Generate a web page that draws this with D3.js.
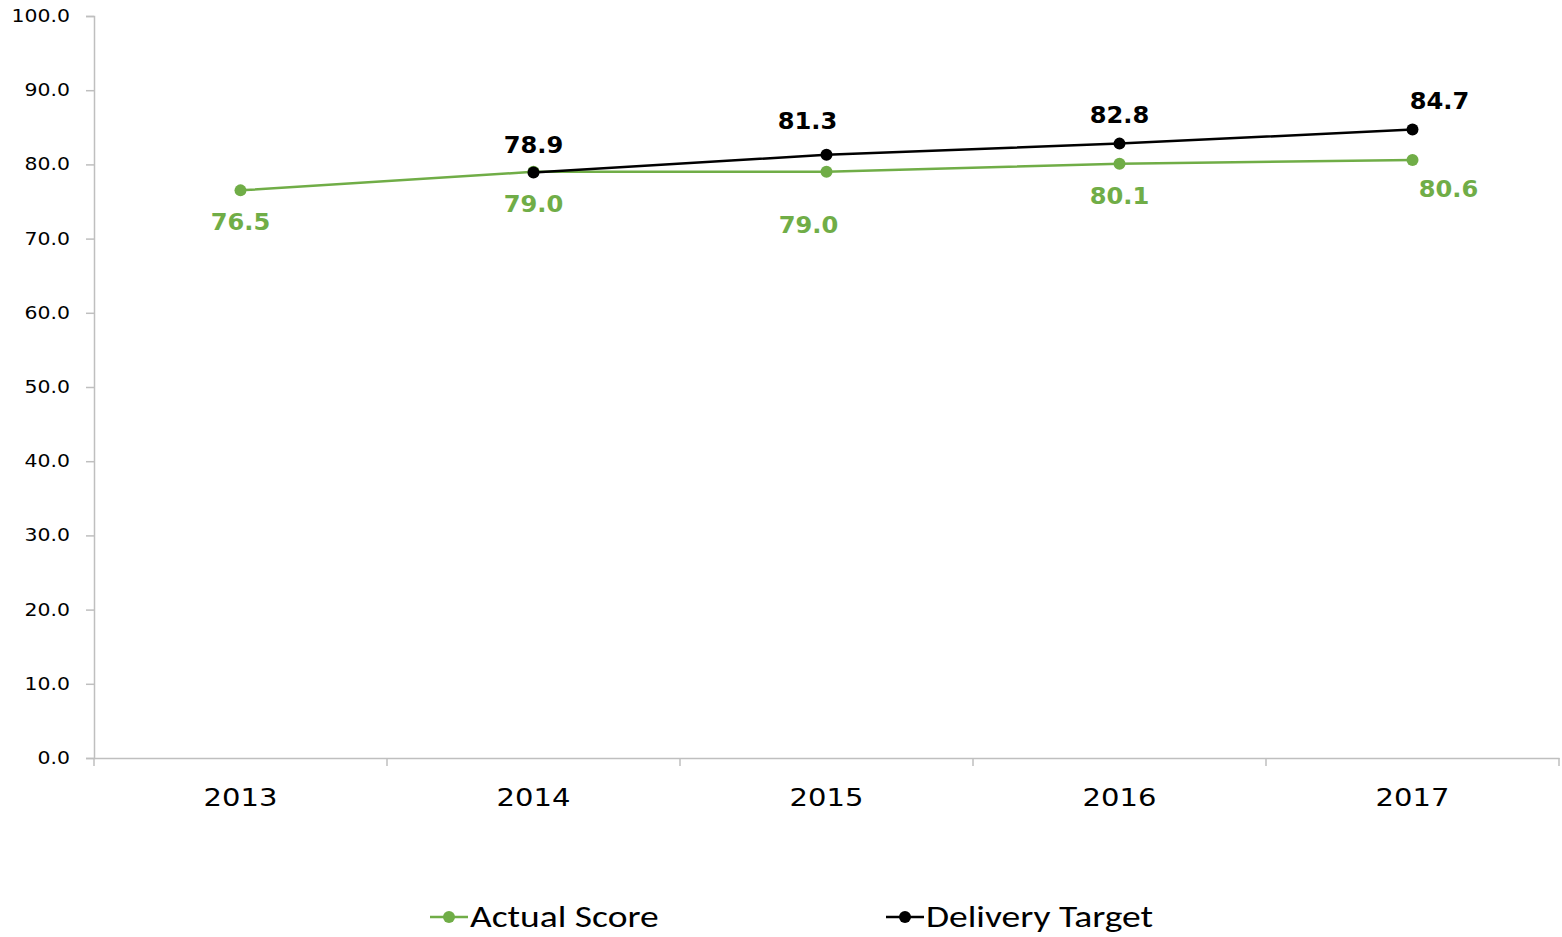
<!DOCTYPE html>
<html>
<head>
<meta charset="utf-8">
<script src="https://cdn.jsdelivr.net/npm/d3@7"></script>
<style>
  body { margin: 0; background: #fff; }
  svg { display: block; }
</style>
</head>
<body>
<svg id="chart"></svg>
<script>
var years = ["2013", "2014", "2015", "2016", "2017"];
var actualScore = [76.5, 79.0, 79.0, 80.1, 80.6];
var deliveryTarget = [null, 78.9, 81.3, 82.8, 84.7];
var yTicks = [0, 10, 20, 30, 40, 50, 60, 70, 80, 90, 100];

// label nudges (dx, dy) like the hand-placed ones in the original
var actualLabelNudge = [[0, 31], [0, 32], [-18, 53], [0, 32], [36, 29]];
var targetLabelNudge = [[0, 0], [0, -28], [-19, -34], [0, -29], [27, -29]];

var width = 1562, height = 937;
var margin = { left: 94, right: 3, top: 16, bottom: 179 };
var green = "#70AD47", black = "#000", axisCol = "#BFBFBF";

var svg = d3.select("#chart").attr("width", width).attr("height", height);

// the original text is drawn a bit wide, stretch it horizontally
function stretch(sel, k) {
  sel.each(function () {
    var w = this.getComputedTextLength();
    d3.select(this).attr("textLength", w * k).attr("lengthAdjust", "spacingAndGlyphs");
  });
}

var x = d3.scaleBand()
  .domain(years)
  .range([margin.left, width - margin.right]);

var y = d3.scaleLinear()
  .domain([0, 100])
  .range([height - margin.bottom, margin.top]);

// y axis
var yAxis = svg.append("g")
  .attr("transform", "translate(" + margin.left + ",0)")
  .call(d3.axisLeft(y).tickValues(yTicks).tickFormat(d3.format(".1f")).tickSize(8).tickPadding(16));
yAxis.select(".domain").attr("stroke", axisCol).attr("stroke-width", 1.5);
yAxis.selectAll(".tick line").attr("stroke", axisCol).attr("stroke-width", 1.5);
yAxis.selectAll("text")
  .attr("fill", "#000")
  .style("font-family", "DejaVu Sans, Verdana, sans-serif")
  .style("font-size", "17px")
  .call(stretch, 1.2);

// x axis
var xAxis = svg.append("g")
  .attr("transform", "translate(0," + y(0) + ")")
  .call(d3.axisBottom(x).tickSize(0).tickPadding(30));
xAxis.select(".domain").attr("stroke", axisCol).attr("stroke-width", 1.5);
xAxis.selectAll("text")
  .attr("fill", "#000")
  .style("font-family", "DejaVu Sans, Verdana, sans-serif")
  .style("font-size", "25px")
  .call(stretch, 1.16);

// category boundary ticks
var bounds = years.map(d => x(d)).concat([x(years[years.length - 1]) + x.bandwidth()]);
svg.append("g").selectAll("line")
  .data(bounds)
  .enter()
  .append("line")
  .attr("x1", d => d).attr("x2", d => d)
  .attr("y1", y(0)).attr("y2", y(0) + 8)
  .attr("stroke", axisCol).attr("stroke-width", 1.5);

var cx = i => x(years[i]) + x.bandwidth() / 2;

function drawSeries(values, color, nudge) {
  var pts = values.map((v, i) => ({ v: v, i: i })).filter(d => d.v !== null);
  var line = d3.line().x(d => cx(d.i)).y(d => y(d.v));
  var g = svg.append("g");
  g.append("path")
    .datum(pts)
    .attr("d", line)
    .attr("fill", "none")
    .attr("stroke", color)
    .attr("stroke-width", 2.5);
  g.selectAll("circle")
    .data(pts)
    .enter()
    .append("circle")
    .attr("cx", d => cx(d.i))
    .attr("cy", d => y(d.v))
    .attr("r", 6)
    .attr("fill", color);
  g.selectAll("text")
    .data(pts)
    .enter()
    .append("text")
    .attr("x", d => cx(d.i) + nudge[d.i][0])
    .attr("y", d => y(d.v) + nudge[d.i][1])
    .attr("dy", "0.36em")
    .attr("text-anchor", "middle")
    .attr("fill", color)
    .style("font-family", "DejaVu Sans, Verdana, sans-serif")
    .style("font-weight", "bold")
    .style("font-size", "23px")
    .text(d => d3.format(".1f")(d.v))
    .call(stretch, 1.05);
}

drawSeries(actualScore, green, actualLabelNudge);
drawSeries(deliveryTarget, black, targetLabelNudge);

// legend
var legendItems = [
  { name: "Actual Score", color: green, x: 430 },
  { name: "Delivery Target", color: black, x: 886 }
];
var leg = svg.append("g").selectAll("g")
  .data(legendItems)
  .enter()
  .append("g")
  .attr("transform", d => "translate(" + d.x + ",917)");
leg.append("line")
  .attr("x1", 0).attr("x2", 38)
  .attr("stroke", d => d.color).attr("stroke-width", 2.5);
leg.append("circle")
  .attr("cx", 19).attr("r", 6)
  .attr("fill", d => d.color);
leg.append("text")
  .attr("x", 40)
  .attr("dy", "0.33em")
  .attr("fill", "#000")
  .style("font-family", "Carlito, 'Liberation Sans Narrow', 'Liberation Sans', sans-serif")
  .style("font-size", "30px")
  .text(d => d.name)
  .call(stretch, 1.25);
</script>
</body>
</html>
